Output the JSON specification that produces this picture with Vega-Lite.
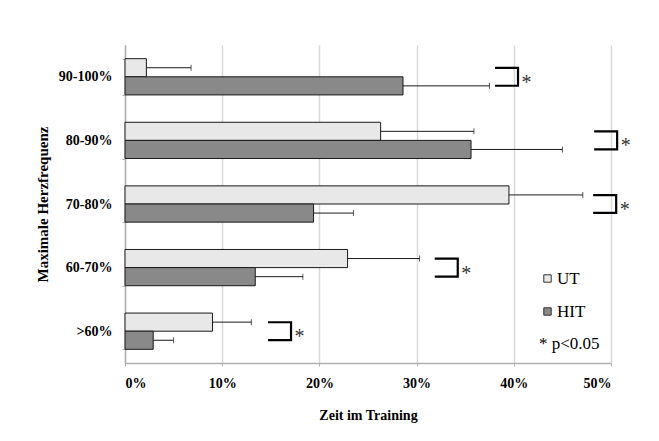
{
  "$schema": "https://vega.github.io/schema/vega-lite/v6.json",
  "width": 486,
  "height": 318,
  "autosize": "none",
  "padding": {"left": 125, "top": 45, "right": 48, "bottom": 78},
  "background": "white",
  "config": {
    "view": {"stroke": null},
    "font": "Liberation Serif",
    "axis": {"labelFont": "Liberation Serif", "titleFont": "Liberation Serif", "labelColor": "black", "titleColor": "black"},
    "legend": {"labelFont": "Liberation Serif", "titleFont": "Liberation Serif"}
  },
  "datasets": {
    "bars": [
      {"cat": "90-100%", "group": "UT", "value": 2.2, "err": 6.8},
      {"cat": "90-100%", "group": "HIT", "value": 28.6, "err": 37.5},
      {"cat": "80-90%", "group": "UT", "value": 26.3, "err": 35.9},
      {"cat": "80-90%", "group": "HIT", "value": 35.6, "err": 45.0},
      {"cat": "70-80%", "group": "UT", "value": 39.5, "err": 47.1},
      {"cat": "70-80%", "group": "HIT", "value": 19.4, "err": 23.5},
      {"cat": "60-70%", "group": "UT", "value": 22.9, "err": 30.3},
      {"cat": "60-70%", "group": "HIT", "value": 13.4, "err": 18.3},
      {"cat": ">60%", "group": "UT", "value": 9.0, "err": 13.0},
      {"cat": ">60%", "group": "HIT", "value": 2.9, "err": 5.0}
    ],
    "brackets": [
      {"cat": "90-100%", "bx": 39.25, "mark": "*"},
      {"cat": "80-90%", "bx": 49.45, "mark": "*"},
      {"cat": "70-80%", "bx": 49.35, "mark": "*"},
      {"cat": "60-70%", "bx": 33.05, "mark": "*"},
      {"cat": ">60%", "bx": 15.9, "mark": "*"}
    ]
  },
  "encoding": {
    "y": {
      "field": "cat", "type": "nominal",
      "scale": {"domain": ["90-100%", "80-90%", "70-80%", "60-70%", ">60%"], "paddingInner": 0.43, "paddingOuter": 0.215},
      "axis": {
        "title": "Maximale Herzfrequenz", "titleFontSize": 15, "titleFontWeight": "bold", "titlePadding": 8,
        "labelFontSize": 14, "labelFontWeight": "bold", "labelPadding": 10,
        "domainColor": "#b0b0b0", "domainWidth": 1.5, "tickColor": "#b0b0b0", "tickSize": 3, "tickBand": "extent", "grid": false
      }
    }
  },
  "layer": [
    {
      "data": {"name": "bars"},
      "mark": {"type": "bar", "stroke": "#1a1a1a", "strokeWidth": 1},
      "encoding": {
        "x": {
          "field": "value", "type": "quantitative",
          "scale": {"domain": [0, 50], "nice": false},
          "axis": {
            "title": "Zeit im Training", "titleFontSize": 14, "titleFontWeight": "bold", "titlePadding": 18,
            "values": [0, 10, 20, 30, 40, 50], "labelExpr": "datum.value + '%'",
            "labelFontSize": 14, "labelFontWeight": "bold", "labelPadding": 10,
            "grid": true, "gridColor": "#d9d9d9", "gridWidth": 1.5,
            "domainColor": "#b0b0b0", "domainWidth": 1.5, "tickColor": "#b0b0b0", "tickSize": 3
          }
        },
        "yOffset": {"field": "group", "type": "nominal", "scale": {"domain": ["UT", "HIT"]}},
        "fill": {
          "field": "group", "type": "nominal",
          "scale": {"domain": ["UT", "HIT"], "range": ["#e7e8e7", "#898989"]},
          "legend": {
            "orient": "none", "legendX": 414, "legendY": 225,
            "title": "* p<0.05", "titleOrient": "bottom", "titleFontSize": 17, "titleFontWeight": "normal", "titleFont": "Liberation Serif", "titleColor": "black", "titlePadding": 16,
            "labelFontSize": 17, "labelFont": "Liberation Serif", "labelColor": "black", "labelOffset": 1,
            "symbolType": "square", "symbolSize": 55, "symbolStrokeColor": "#333333", "symbolStrokeWidth": 1,
            "rowPadding": 15
          }
        }
      }
    },
    {
      "data": {"name": "bars"},
      "mark": {"type": "rule", "color": "#1a1a1a", "strokeWidth": 1},
      "encoding": {
        "x": {"field": "value", "type": "quantitative"},
        "x2": {"field": "err"},
        "yOffset": {"field": "group", "type": "nominal", "scale": {"domain": ["UT", "HIT"]}}
      }
    },
    {
      "data": {"name": "bars"},
      "mark": {"type": "tick", "color": "#1a1a1a", "thickness": 1, "size": 6, "orient": "vertical"},
      "encoding": {
        "x": {"field": "err", "type": "quantitative"},
        "yOffset": {"field": "group", "type": "nominal", "scale": {"domain": ["UT", "HIT"]}}
      }
    },
    {
      "data": {"name": "brackets"},
      "mark": {"type": "point", "shape": "M -1 -0.78 L 1 -0.78 L 1 0.78 L -1 0.78", "filled": false, "fill": null, "stroke": "black", "strokeWidth": 2.2, "size": 529, "opacity": 1},
      "encoding": {
        "x": {"field": "bx", "type": "quantitative"}
      }
    },
    {
      "data": {"name": "brackets"},
      "mark": {"type": "text", "font": "Liberation Serif", "fontSize": 20, "dx": 20, "dy": 6, "align": "center", "baseline": "middle", "color": "#333333"},
      "encoding": {
        "x": {"field": "bx", "type": "quantitative"},
        "text": {"field": "mark"}
      }
    }
  ]
}
